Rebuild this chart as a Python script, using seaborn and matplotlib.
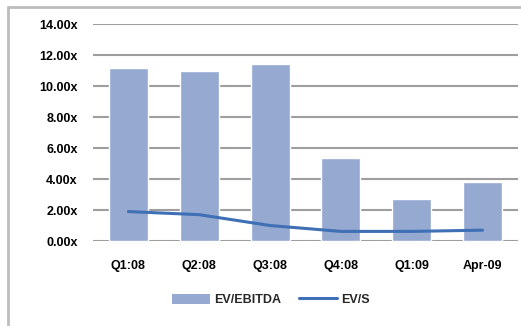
import numpy as np
import pandas as pd
import seaborn as sns
import matplotlib.pyplot as plt
from matplotlib.lines import Line2D
from matplotlib.patches import Patch
from matplotlib.ticker import FuncFormatter

# data
periods = ['Q1:08', 'Q2:08', 'Q3:08', 'Q4:08', 'Q1:09', 'Apr-09']
ev_ebitda = [11.2, 10.95, 11.4, 5.33, 2.7, 3.8]
ev_s = [1.9, 1.7, 1.0, 0.62, 0.62, 0.7]

df = pd.DataFrame({'period': periods, 'EV/EBITDA': ev_ebitda, 'EV/S': ev_s})

sns.set_style('white')
plt.rcParams['font.family'] = ['Liberation Sans Narrow', 'Liberation Sans', 'DejaVu Sans']

bar_color = '#95a9d1'
line_color = '#3f6fb5'
grid_color = '#9e9e9e'

fig = plt.figure(figsize=(5.21, 3.26), dpi=100)
ax = fig.add_axes([0.1785, 0.2607, 0.8155, 0.6653])

sns.barplot(data=df, x='period', y='EV/EBITDA', color=bar_color, width=0.55,
            saturation=1, ax=ax, zorder=2)
sns.lineplot(x=np.arange(len(periods)), y=df['EV/S'], color=line_color,
             linewidth=2.2, ax=ax, zorder=3)

ax.set_ylim(0, 14)
ax.set_yticks(np.arange(0, 15, 2))
ax.set_xlim(-0.5, len(periods) - 0.5)
ax.yaxis.set_major_formatter(FuncFormatter(lambda v, p: '{:.2f}x'.format(v)))
ax.grid(axis='y', color=grid_color, linewidth=1.5, zorder=0)
ax.set_axisbelow(True)
for s in ax.spines.values():
    s.set_visible(False)
ax.set_xlabel('')
ax.set_ylabel('')
ax.tick_params(axis='both', length=0, labelsize=9, labelcolor='black')
ax.tick_params(axis='y', pad=11)
ax.tick_params(axis='x', pad=14)
for lbl in ax.get_xticklabels() + ax.get_yticklabels():
    lbl.set_fontweight('bold')

handles = [Patch(facecolor=bar_color, edgecolor='none'),
           Line2D([0], [0], color=line_color, linewidth=2.2)]
fig.legend(handles, ['EV/EBITDA', 'EV/S'], loc='center', bbox_to_anchor=(0.52, 0.08),
           ncol=2, frameon=False, prop={'weight': 'bold', 'size': 9},
           handlelength=3.0, handleheight=0.9, columnspacing=1.5, handletextpad=0.3)

# outer chart frame (left and top edges visible)
fig.add_artist(Line2D([8 / 521, 8 / 521], [0, 1 - 7 / 326], transform=fig.transFigure,
                      color='#bdbdbd', linewidth=2))
fig.add_artist(Line2D([8 / 521, 1], [1 - 7 / 326, 1 - 7 / 326], transform=fig.transFigure,
                      color='#bdbdbd', linewidth=2))

fig.savefig('out.png', dpi=100)
